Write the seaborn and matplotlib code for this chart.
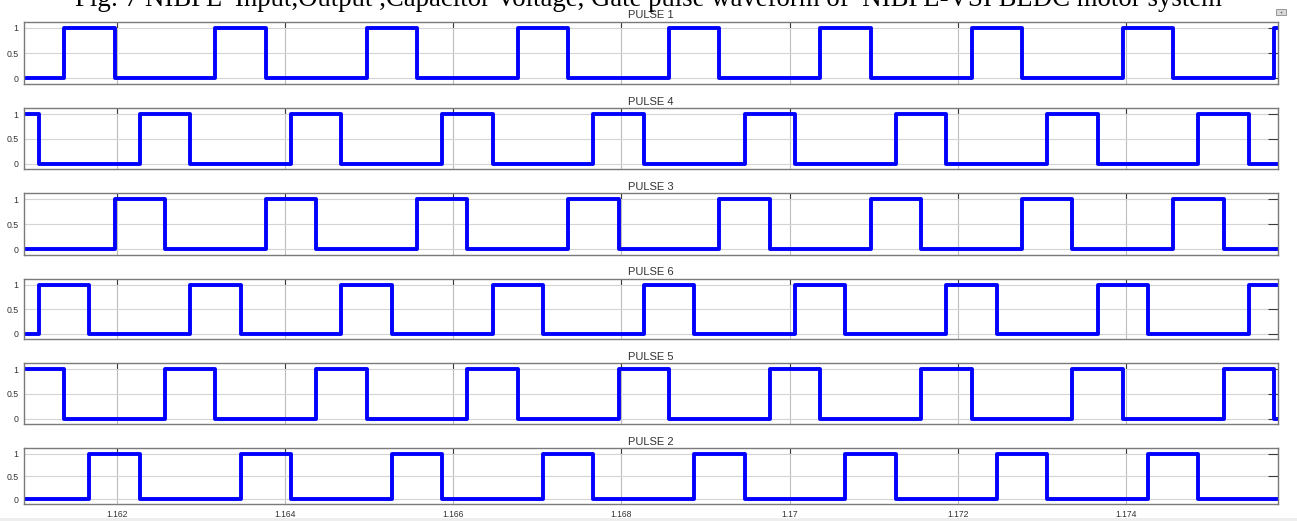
import matplotlib
matplotlib.use("Agg")
import matplotlib.pyplot as plt
from matplotlib.patches import Rectangle
import numpy as np
import pandas as pd
import seaborn as sns

# Scope window (seconds)
T_START = 1.160894
T_END = 1.175808

# Gate pulse switching instants (seconds) for each device, in display order
pulse_names = ["PULSE 1", "PULSE 4", "PULSE 3", "PULSE 6", "PULSE 5", "PULSE 2"]

# state at the start of the window (1 = ON)
initial_state = [0, 1, 0, 0, 1, 0]

pulse1_on = [1.161372, 1.163170, 1.164969, 1.166767, 1.168566, 1.170364, 1.172163, 1.173961, 1.175760]
pulse1_off = [1.161971, 1.163770, 1.165568, 1.167367, 1.169165, 1.170964, 1.172762, 1.174561]

pulse4_on = [1.162271, 1.164070, 1.165868, 1.167667, 1.169465, 1.171264, 1.173062, 1.174861]
pulse4_off = [1.161072, 1.162871, 1.164669, 1.166468, 1.168266, 1.170065, 1.171863, 1.173662, 1.175460]

pulse3_on = [1.161971, 1.163770, 1.165568, 1.167367, 1.169165, 1.170964, 1.172762, 1.174561]
pulse3_off = [1.162571, 1.164369, 1.166168, 1.167966, 1.169765, 1.171563, 1.173362, 1.175160]

pulse6_on = [1.161072, 1.162871, 1.164669, 1.166468, 1.168266, 1.170065, 1.171863, 1.173662, 1.175460]
pulse6_off = [1.161672, 1.163470, 1.165269, 1.167067, 1.168866, 1.170664, 1.172463, 1.174261]

pulse5_on = [1.162571, 1.164369, 1.166168, 1.167966, 1.169765, 1.171563, 1.173362, 1.175160]
pulse5_off = [1.161372, 1.163170, 1.164969, 1.166767, 1.168566, 1.170364, 1.172163, 1.173961, 1.175760]

pulse2_on = [1.161672, 1.163470, 1.165269, 1.167067, 1.168866, 1.170664, 1.172463, 1.174261]
pulse2_off = [1.162271, 1.164070, 1.165868, 1.167667, 1.169465, 1.171264, 1.173062, 1.174861]

pulse_on = [pulse1_on, pulse4_on, pulse3_on, pulse6_on, pulse5_on, pulse2_on]
pulse_off = [pulse1_off, pulse4_off, pulse3_off, pulse6_off, pulse5_off, pulse2_off]

xtick_values = [1.162, 1.164, 1.166, 1.168, 1.170, 1.172, 1.174]
xtick_labels = ["1.162", "1.164", "1.166", "1.168", "1.17", "1.172", "1.174"]
ytick_values = [0, 0.5, 1]
ytick_labels = ["0", "0.5", "1"]

fig_title = ("Fig: 7 NIBPL  Input,Output ,Capacitor Voltage, Gate pulse waveform of  "
             "NIBPL-VSI BLDC motor system")


def step_frame(init, ons, offs):
    """Turn switching instants into a step series (used with steps-post)."""
    events = sorted([(t, 1) for t in ons] + [(t, 0) for t in offs])
    times = [T_START] + [t for t, _ in events] + [T_END]
    states = [init] + [s for _, s in events] + [events[-1][1]]
    return pd.DataFrame({"time": times, "gate": states})


sns.set_style("white")
plt.rcParams["font.family"] = ["Liberation Sans", "DejaVu Sans"]

W, H = 1297, 521
fig = plt.figure(figsize=(W / 100, H / 100), dpi=100)
fig.patch.set_facecolor("white")

# panel frames in pixels (top, bottom)
panel_px = [(21.7, 84.0), (108.3, 169.0), (193.3, 254.7),
            (278.7, 339.3), (363.3, 424.0), (448.3, 504.0)]
left_px, right_px = 24, 1278

for i, (name, init, ons, offs) in enumerate(zip(pulse_names, initial_state, pulse_on, pulse_off)):
    top, bot = panel_px[i]
    ax = fig.add_axes([left_px / W, 1 - bot / H, (right_px - left_px) / W, (bot - top) / H])
    df = step_frame(init, ons, offs)
    sns.lineplot(data=df, x="time", y="gate", ax=ax, color="#0000ff",
                 linewidth=2.8, drawstyle="steps-post", estimator=None, sort=False)
    ax.set_xlim(T_START, T_END)
    ax.set_ylim(-0.11, 1.12)
    ax.set_xticks(xtick_values)
    ax.set_yticks(ytick_values)
    ax.set_yticklabels(ytick_labels)
    if i == len(pulse_names) - 1:
        ax.set_xticklabels(xtick_labels)
    else:
        ax.set_xticklabels([])
    ax.set_xlabel("")
    ax.set_ylabel("")
    ax.grid(True, axis="y", color="#d4d4d4", linewidth=0.8)
    ax.grid(True, axis="x", color="#bdbdbd", linewidth=0.8)
    ax.set_axisbelow(True)
    ax.tick_params(axis="both", direction="in", top=True, right=True,
                   colors="#3a3a3a", labelcolor="#333333", width=0.8)
    ax.tick_params(axis="y", length=7, labelsize=6.3, pad=4)
    ax.tick_params(axis="x", length=4, labelsize=6.2, pad=4)
    for sp in ax.spines.values():
        sp.set_color("#7a7a7a")
        sp.set_linewidth(1.0)
    ax.set_title(name, fontsize=8, color="#333333", pad=2.5)

# figure caption, partly cut at the top edge
fig.text(0.5, 1 - 5.5 / H, fig_title, ha="center", va="baseline",
         family=["Liberation Serif", "DejaVu Serif"], fontsize=19.3, color="black")

# small scope toolbar button at the top right
fig.patches.append(Rectangle((1276 / W, 1 - 15 / H), 10 / W, 6 / H, transform=fig.transFigure,
                             facecolor="#d9d9d9", edgecolor="#8a8a8a", linewidth=0.6))
fig.text(1281 / W, 1 - 12 / H, "+", ha="center", va="center", fontsize=4, color="#444444")

# light status strip along the bottom
fig.patches.append(Rectangle((0, 0), 1, 3 / H, transform=fig.transFigure,
                             facecolor="#eeeeee", edgecolor="none"))

fig.savefig("out.png", dpi=100)
